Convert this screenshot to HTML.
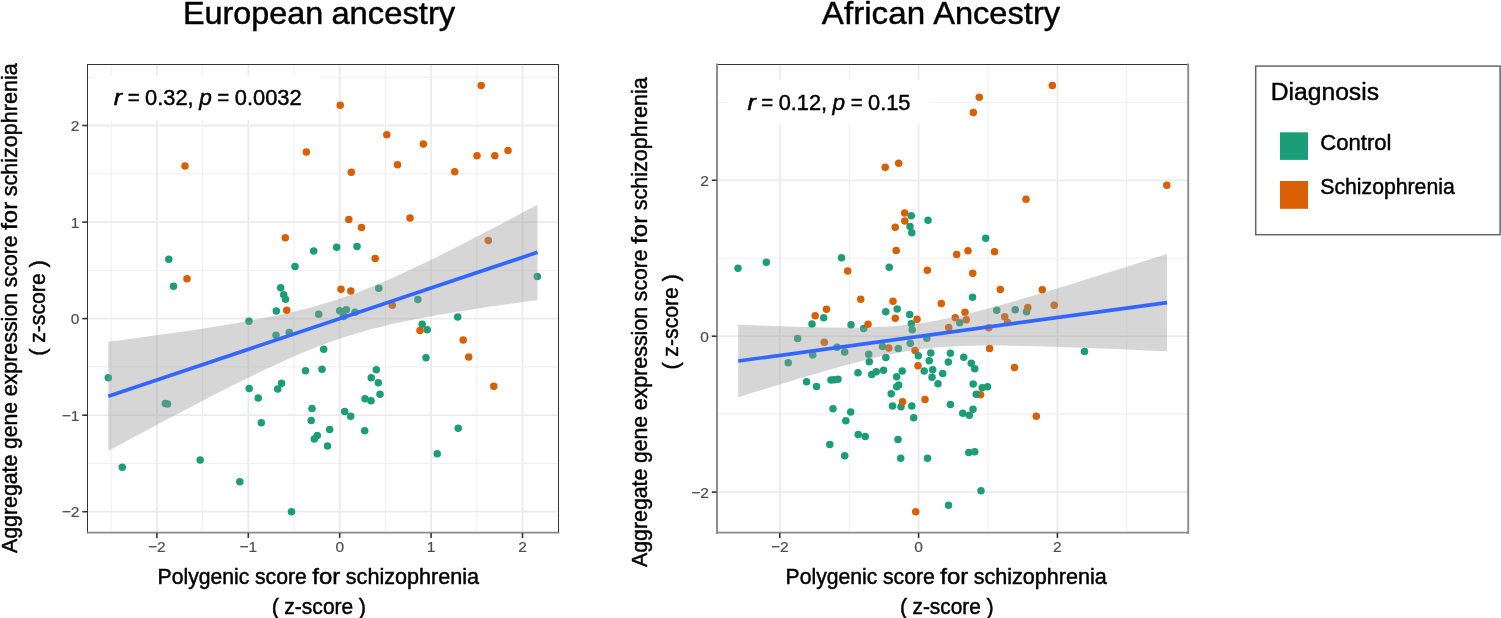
<!DOCTYPE html>
<html lang="en">
<head>
<meta charset="utf-8">
<title>Polygenic score vs aggregate gene expression score for schizophrenia</title>
<style>
html,body{margin:0;padding:0;background:#fff;}
body{width:1501px;height:618px;overflow:hidden;}
svg{display:block;font-family:"Liberation Sans",sans-serif;}
</style>
</head>
<body>
<svg width="1501" height="618" viewBox="0 0 1501 618">
<rect width="1501" height="618" fill="#fff"/>
<g>
<line x1="111.2" y1="64.5" x2="111.2" y2="532.7" stroke="#EBEBEB" stroke-width="0.85"/>
<line x1="202.6" y1="64.5" x2="202.6" y2="532.7" stroke="#EBEBEB" stroke-width="0.85"/>
<line x1="294.0" y1="64.5" x2="294.0" y2="532.7" stroke="#EBEBEB" stroke-width="0.85"/>
<line x1="385.4" y1="64.5" x2="385.4" y2="532.7" stroke="#EBEBEB" stroke-width="0.85"/>
<line x1="476.8" y1="64.5" x2="476.8" y2="532.7" stroke="#EBEBEB" stroke-width="0.85"/>
<line x1="87.5" y1="463.4" x2="558.5" y2="463.4" stroke="#EBEBEB" stroke-width="0.85"/>
<line x1="87.5" y1="366.9" x2="558.5" y2="366.9" stroke="#EBEBEB" stroke-width="0.85"/>
<line x1="87.5" y1="270.3" x2="558.5" y2="270.3" stroke="#EBEBEB" stroke-width="0.85"/>
<line x1="87.5" y1="173.8" x2="558.5" y2="173.8" stroke="#EBEBEB" stroke-width="0.85"/>
<line x1="87.5" y1="77.2" x2="558.5" y2="77.2" stroke="#EBEBEB" stroke-width="0.85"/>
<line x1="156.9" y1="64.5" x2="156.9" y2="532.7" stroke="#EBEBEB" stroke-width="1.80"/>
<line x1="248.3" y1="64.5" x2="248.3" y2="532.7" stroke="#EBEBEB" stroke-width="1.80"/>
<line x1="339.7" y1="64.5" x2="339.7" y2="532.7" stroke="#EBEBEB" stroke-width="1.80"/>
<line x1="431.1" y1="64.5" x2="431.1" y2="532.7" stroke="#EBEBEB" stroke-width="1.80"/>
<line x1="522.5" y1="64.5" x2="522.5" y2="532.7" stroke="#EBEBEB" stroke-width="1.80"/>
<line x1="87.5" y1="511.7" x2="558.5" y2="511.7" stroke="#EBEBEB" stroke-width="1.80"/>
<line x1="87.5" y1="415.2" x2="558.5" y2="415.2" stroke="#EBEBEB" stroke-width="1.80"/>
<line x1="87.5" y1="318.6" x2="558.5" y2="318.6" stroke="#EBEBEB" stroke-width="1.80"/>
<line x1="87.5" y1="222.1" x2="558.5" y2="222.1" stroke="#EBEBEB" stroke-width="1.80"/>
<line x1="87.5" y1="125.5" x2="558.5" y2="125.5" stroke="#EBEBEB" stroke-width="1.80"/>
<rect x="95.0" y="75.8" width="225.0" height="44.0" fill="#fff"/>
<circle cx="313.7" cy="251.0" r="3.75" fill="#1B9E77"/><circle cx="336.7" cy="247.3" r="3.75" fill="#1B9E77"/><circle cx="357.0" cy="246.5" r="3.75" fill="#1B9E77"/><circle cx="168.8" cy="259.2" r="3.75" fill="#1B9E77"/><circle cx="173.5" cy="286.3" r="3.75" fill="#1B9E77"/><circle cx="295.0" cy="266.5" r="3.75" fill="#1B9E77"/><circle cx="280.7" cy="287.7" r="3.75" fill="#1B9E77"/><circle cx="283.7" cy="294.7" r="3.75" fill="#1B9E77"/><circle cx="285.5" cy="299.3" r="3.75" fill="#1B9E77"/><circle cx="276.3" cy="311.0" r="3.75" fill="#1B9E77"/><circle cx="318.7" cy="314.3" r="3.75" fill="#1B9E77"/><circle cx="249.0" cy="321.2" r="3.75" fill="#1B9E77"/><circle cx="276.0" cy="335.2" r="3.75" fill="#1B9E77"/><circle cx="289.3" cy="332.5" r="3.75" fill="#1B9E77"/><circle cx="323.7" cy="349.3" r="3.75" fill="#1B9E77"/><circle cx="378.7" cy="288.3" r="3.75" fill="#1B9E77"/><circle cx="417.8" cy="299.5" r="3.75" fill="#1B9E77"/><circle cx="339.7" cy="310.8" r="3.75" fill="#1B9E77"/><circle cx="346.3" cy="309.7" r="3.75" fill="#1B9E77"/><circle cx="343.3" cy="312.5" r="3.75" fill="#1B9E77"/><circle cx="355.0" cy="312.2" r="3.75" fill="#1B9E77"/><circle cx="343.5" cy="316.5" r="3.75" fill="#1B9E77"/><circle cx="537.3" cy="276.5" r="3.75" fill="#1B9E77"/><circle cx="457.7" cy="317.0" r="3.75" fill="#1B9E77"/><circle cx="422.2" cy="324.2" r="3.75" fill="#1B9E77"/><circle cx="427.2" cy="329.7" r="3.75" fill="#1B9E77"/><circle cx="108.3" cy="377.7" r="3.75" fill="#1B9E77"/><circle cx="165.3" cy="403.5" r="3.75" fill="#1B9E77"/><circle cx="167.5" cy="404.0" r="3.75" fill="#1B9E77"/><circle cx="305.5" cy="370.8" r="3.75" fill="#1B9E77"/><circle cx="322.0" cy="369.2" r="3.75" fill="#1B9E77"/><circle cx="281.5" cy="383.3" r="3.75" fill="#1B9E77"/><circle cx="277.7" cy="389.0" r="3.75" fill="#1B9E77"/><circle cx="249.2" cy="388.5" r="3.75" fill="#1B9E77"/><circle cx="258.2" cy="398.0" r="3.75" fill="#1B9E77"/><circle cx="312.0" cy="408.5" r="3.75" fill="#1B9E77"/><circle cx="261.3" cy="422.8" r="3.75" fill="#1B9E77"/><circle cx="311.2" cy="420.5" r="3.75" fill="#1B9E77"/><circle cx="329.7" cy="429.4" r="3.75" fill="#1B9E77"/><circle cx="317.3" cy="435.5" r="3.75" fill="#1B9E77"/><circle cx="314.3" cy="438.9" r="3.75" fill="#1B9E77"/><circle cx="327.5" cy="446.0" r="3.75" fill="#1B9E77"/><circle cx="426.0" cy="357.7" r="3.75" fill="#1B9E77"/><circle cx="376.3" cy="369.8" r="3.75" fill="#1B9E77"/><circle cx="371.2" cy="377.8" r="3.75" fill="#1B9E77"/><circle cx="378.3" cy="382.8" r="3.75" fill="#1B9E77"/><circle cx="380.0" cy="394.2" r="3.75" fill="#1B9E77"/><circle cx="365.0" cy="398.8" r="3.75" fill="#1B9E77"/><circle cx="371.0" cy="400.8" r="3.75" fill="#1B9E77"/><circle cx="344.7" cy="411.5" r="3.75" fill="#1B9E77"/><circle cx="350.7" cy="416.2" r="3.75" fill="#1B9E77"/><circle cx="364.7" cy="430.7" r="3.75" fill="#1B9E77"/><circle cx="458.2" cy="428.2" r="3.75" fill="#1B9E77"/><circle cx="122.3" cy="467.2" r="3.75" fill="#1B9E77"/><circle cx="200.2" cy="460.0" r="3.75" fill="#1B9E77"/><circle cx="239.8" cy="481.8" r="3.75" fill="#1B9E77"/><circle cx="291.5" cy="511.8" r="3.75" fill="#1B9E77"/><circle cx="437.2" cy="453.7" r="3.75" fill="#1B9E77"/>
<circle cx="306.3" cy="151.9" r="3.75" fill="#D95F02"/><circle cx="340.2" cy="105.2" r="3.75" fill="#D95F02"/><circle cx="481.2" cy="85.5" r="3.75" fill="#D95F02"/><circle cx="386.8" cy="134.8" r="3.75" fill="#D95F02"/><circle cx="423.3" cy="144.0" r="3.75" fill="#D95F02"/><circle cx="508.0" cy="150.4" r="3.75" fill="#D95F02"/><circle cx="477.0" cy="155.7" r="3.75" fill="#D95F02"/><circle cx="494.8" cy="155.7" r="3.75" fill="#D95F02"/><circle cx="185.0" cy="166.0" r="3.75" fill="#D95F02"/><circle cx="285.3" cy="237.8" r="3.75" fill="#D95F02"/><circle cx="351.3" cy="172.2" r="3.75" fill="#D95F02"/><circle cx="397.5" cy="164.8" r="3.75" fill="#D95F02"/><circle cx="454.7" cy="171.8" r="3.75" fill="#D95F02"/><circle cx="348.8" cy="219.5" r="3.75" fill="#D95F02"/><circle cx="361.5" cy="227.5" r="3.75" fill="#D95F02"/><circle cx="410.0" cy="218.0" r="3.75" fill="#D95F02"/><circle cx="488.3" cy="240.5" r="3.75" fill="#D95F02"/><circle cx="375.2" cy="258.5" r="3.75" fill="#D95F02"/><circle cx="187.0" cy="278.8" r="3.75" fill="#D95F02"/><circle cx="286.7" cy="310.2" r="3.75" fill="#D95F02"/><circle cx="341.0" cy="289.2" r="3.75" fill="#D95F02"/><circle cx="350.8" cy="291.0" r="3.75" fill="#D95F02"/><circle cx="392.3" cy="305.2" r="3.75" fill="#D95F02"/><circle cx="420.0" cy="330.5" r="3.75" fill="#D95F02"/><circle cx="463.2" cy="340.0" r="3.75" fill="#D95F02"/><circle cx="468.7" cy="357.0" r="3.75" fill="#D95F02"/><circle cx="493.8" cy="386.2" r="3.75" fill="#D95F02"/>

<path d="M108.3 341.8 L115.5 340.9 L122.6 339.9 L129.8 339.0 L136.9 338.0 L144.1 337.0 L151.2 336.0 L158.4 335.0 L165.5 334.0 L172.7 333.0 L179.8 332.0 L187.0 330.9 L194.1 329.9 L201.3 328.8 L208.4 327.7 L215.6 326.6 L222.8 325.4 L229.9 324.2 L237.1 323.0 L244.2 321.8 L251.4 320.5 L258.5 319.1 L265.7 317.8 L272.8 316.3 L280.0 314.8 L287.1 313.2 L294.3 311.6 L301.4 309.8 L308.6 308.0 L315.7 306.0 L322.9 304.0 L330.1 301.8 L337.2 299.5 L344.4 297.1 L351.5 294.6 L358.7 291.9 L365.8 289.1 L373.0 286.3 L380.1 283.3 L387.3 280.2 L394.4 277.0 L401.6 273.8 L408.7 270.5 L415.9 267.1 L423.0 263.7 L430.2 260.2 L437.4 256.7 L444.5 253.1 L451.7 249.5 L458.8 245.9 L466.0 242.3 L473.1 238.6 L480.3 234.9 L487.4 231.1 L494.6 227.4 L501.7 223.7 L508.9 219.9 L516.0 216.1 L523.2 212.3 L530.3 208.5 L537.5 204.7 L537.5 299.9 L530.3 300.9 L523.2 301.9 L516.0 302.9 L508.9 303.9 L501.7 305.0 L494.6 306.0 L487.4 307.1 L480.3 308.2 L473.1 309.3 L466.0 310.4 L458.8 311.5 L451.7 312.7 L444.5 313.9 L437.4 315.1 L430.2 316.4 L423.0 317.7 L415.9 319.1 L408.7 320.5 L401.6 322.0 L394.4 323.6 L387.3 325.2 L380.1 327.0 L373.0 328.8 L365.8 330.7 L358.7 332.7 L351.5 334.9 L344.4 337.1 L337.2 339.5 L330.1 342.0 L322.9 344.7 L315.7 347.4 L308.6 350.3 L301.4 353.2 L294.3 356.3 L287.1 359.4 L280.0 362.7 L272.8 366.0 L265.7 369.3 L258.5 372.7 L251.4 376.2 L244.2 379.7 L237.1 383.3 L229.9 386.8 L222.8 390.5 L215.6 394.1 L208.4 397.8 L201.3 401.5 L194.1 405.2 L187.0 408.9 L179.8 412.7 L172.7 416.5 L165.5 420.2 L158.4 424.0 L151.2 427.8 L144.1 431.7 L136.9 435.5 L129.8 439.3 L122.6 443.2 L115.5 447.0 L108.3 450.9Z" fill="#999999" fill-opacity="0.4"/>
<line x1="108.3" y1="396.3" x2="537.5" y2="252.3" stroke="#3366FF" stroke-width="3.7"/>
<line x1="87.50" y1="64.50" x2="558.50" y2="64.50" stroke="#333333" stroke-width="1.00" stroke-linecap="square"/>
<line x1="87.50" y1="64.50" x2="87.50" y2="532.70" stroke="#333333" stroke-width="1.00" stroke-linecap="square"/>
<line x1="558.50" y1="64.50" x2="558.50" y2="532.70" stroke="#333333" stroke-width="1.00" stroke-linecap="square"/>
<line x1="87.50" y1="532.70" x2="558.50" y2="532.70" stroke="#8a8a8a" stroke-width="1.70" stroke-linecap="square"/>
<line x1="156.9" y1="533.0" x2="156.9" y2="538.0" stroke="#333333" stroke-width="1.6"/>
<text x="156.9" y="552.0" font-size="15.50" fill="#4D4D4D" stroke="#4D4D4D" stroke-width="0.2" text-anchor="middle">−2</text>
<line x1="248.3" y1="533.0" x2="248.3" y2="538.0" stroke="#333333" stroke-width="1.6"/>
<text x="248.3" y="552.0" font-size="15.50" fill="#4D4D4D" stroke="#4D4D4D" stroke-width="0.2" text-anchor="middle">−1</text>
<line x1="339.7" y1="533.0" x2="339.7" y2="538.0" stroke="#333333" stroke-width="1.6"/>
<text x="339.7" y="552.0" font-size="15.50" fill="#4D4D4D" stroke="#4D4D4D" stroke-width="0.2" text-anchor="middle">0</text>
<line x1="431.1" y1="533.0" x2="431.1" y2="538.0" stroke="#333333" stroke-width="1.6"/>
<text x="431.1" y="552.0" font-size="15.50" fill="#4D4D4D" stroke="#4D4D4D" stroke-width="0.2" text-anchor="middle">1</text>
<line x1="522.5" y1="533.0" x2="522.5" y2="538.0" stroke="#333333" stroke-width="1.6"/>
<text x="522.5" y="552.0" font-size="15.50" fill="#4D4D4D" stroke="#4D4D4D" stroke-width="0.2" text-anchor="middle">2</text>
<line x1="82.3" y1="511.7" x2="87.2" y2="511.7" stroke="#333333" stroke-width="1.6"/>
<text x="79.4" y="517.3" font-size="15.50" fill="#4D4D4D" stroke="#4D4D4D" stroke-width="0.2" text-anchor="end">−2</text>
<line x1="82.3" y1="415.2" x2="87.2" y2="415.2" stroke="#333333" stroke-width="1.6"/>
<text x="79.4" y="420.8" font-size="15.50" fill="#4D4D4D" stroke="#4D4D4D" stroke-width="0.2" text-anchor="end">−1</text>
<line x1="82.3" y1="318.6" x2="87.2" y2="318.6" stroke="#333333" stroke-width="1.6"/>
<text x="79.4" y="324.2" font-size="15.50" fill="#4D4D4D" stroke="#4D4D4D" stroke-width="0.2" text-anchor="end">0</text>
<line x1="82.3" y1="222.1" x2="87.2" y2="222.1" stroke="#333333" stroke-width="1.6"/>
<text x="79.4" y="227.7" font-size="15.50" fill="#4D4D4D" stroke="#4D4D4D" stroke-width="0.2" text-anchor="end">1</text>
<line x1="82.3" y1="125.5" x2="87.2" y2="125.5" stroke="#333333" stroke-width="1.6"/>
<text x="79.4" y="131.1" font-size="15.50" fill="#4D4D4D" stroke="#4D4D4D" stroke-width="0.2" text-anchor="end">2</text>
</g>
<g>
<line x1="849.2" y1="64.5" x2="849.2" y2="532.7" stroke="#EBEBEB" stroke-width="0.85"/>
<line x1="988.0" y1="64.5" x2="988.0" y2="532.7" stroke="#EBEBEB" stroke-width="0.85"/>
<line x1="1126.8" y1="64.5" x2="1126.8" y2="532.7" stroke="#EBEBEB" stroke-width="0.85"/>
<line x1="717.0" y1="414.1" x2="1188.2" y2="414.1" stroke="#EBEBEB" stroke-width="0.85"/>
<line x1="717.0" y1="258.2" x2="1188.2" y2="258.2" stroke="#EBEBEB" stroke-width="0.85"/>
<line x1="717.0" y1="102.3" x2="1188.2" y2="102.3" stroke="#EBEBEB" stroke-width="0.85"/>
<line x1="779.8" y1="64.5" x2="779.8" y2="532.7" stroke="#EBEBEB" stroke-width="1.80"/>
<line x1="918.6" y1="64.5" x2="918.6" y2="532.7" stroke="#EBEBEB" stroke-width="1.80"/>
<line x1="1057.4" y1="64.5" x2="1057.4" y2="532.7" stroke="#EBEBEB" stroke-width="1.80"/>
<line x1="717.0" y1="492.1" x2="1188.2" y2="492.1" stroke="#EBEBEB" stroke-width="1.80"/>
<line x1="717.0" y1="336.2" x2="1188.2" y2="336.2" stroke="#EBEBEB" stroke-width="1.80"/>
<line x1="717.0" y1="180.3" x2="1188.2" y2="180.3" stroke="#EBEBEB" stroke-width="1.80"/>
<rect x="727.5" y="80.0" width="202.5" height="44.2" fill="#fff"/>
<circle cx="911.2" cy="215.8" r="3.75" fill="#1B9E77"/><circle cx="928.0" cy="220.3" r="3.75" fill="#1B9E77"/><circle cx="910.0" cy="226.5" r="3.75" fill="#1B9E77"/><circle cx="911.8" cy="232.8" r="3.75" fill="#1B9E77"/><circle cx="985.7" cy="238.3" r="3.75" fill="#1B9E77"/><circle cx="738.0" cy="268.3" r="3.75" fill="#1B9E77"/><circle cx="766.3" cy="262.2" r="3.75" fill="#1B9E77"/><circle cx="841.5" cy="257.8" r="3.75" fill="#1B9E77"/><circle cx="889.2" cy="267.3" r="3.75" fill="#1B9E77"/><circle cx="823.7" cy="317.8" r="3.75" fill="#1B9E77"/><circle cx="812.0" cy="324.0" r="3.75" fill="#1B9E77"/><circle cx="885.8" cy="311.7" r="3.75" fill="#1B9E77"/><circle cx="897.2" cy="309.0" r="3.75" fill="#1B9E77"/><circle cx="909.7" cy="314.5" r="3.75" fill="#1B9E77"/><circle cx="851.0" cy="324.7" r="3.75" fill="#1B9E77"/><circle cx="911.3" cy="323.7" r="3.75" fill="#1B9E77"/><circle cx="863.7" cy="328.5" r="3.75" fill="#1B9E77"/><circle cx="912.2" cy="329.7" r="3.75" fill="#1B9E77"/><circle cx="797.7" cy="338.5" r="3.75" fill="#1B9E77"/><circle cx="926.8" cy="338.3" r="3.75" fill="#1B9E77"/><circle cx="910.3" cy="343.3" r="3.75" fill="#1B9E77"/><circle cx="837.0" cy="347.3" r="3.75" fill="#1B9E77"/><circle cx="882.5" cy="346.5" r="3.75" fill="#1B9E77"/><circle cx="898.3" cy="348.5" r="3.75" fill="#1B9E77"/><circle cx="972.5" cy="297.3" r="3.75" fill="#1B9E77"/><circle cx="959.7" cy="322.7" r="3.75" fill="#1B9E77"/><circle cx="996.7" cy="310.3" r="3.75" fill="#1B9E77"/><circle cx="1015.2" cy="309.8" r="3.75" fill="#1B9E77"/><circle cx="1026.5" cy="311.8" r="3.75" fill="#1B9E77"/><circle cx="812.7" cy="355.0" r="3.75" fill="#1B9E77"/><circle cx="844.7" cy="352.0" r="3.75" fill="#1B9E77"/><circle cx="788.2" cy="362.8" r="3.75" fill="#1B9E77"/><circle cx="868.7" cy="354.2" r="3.75" fill="#1B9E77"/><circle cx="930.8" cy="353.0" r="3.75" fill="#1B9E77"/><circle cx="950.4" cy="353.3" r="3.75" fill="#1B9E77"/><circle cx="885.8" cy="357.5" r="3.75" fill="#1B9E77"/><circle cx="869.3" cy="361.7" r="3.75" fill="#1B9E77"/><circle cx="929.2" cy="360.7" r="3.75" fill="#1B9E77"/><circle cx="948.3" cy="362.0" r="3.75" fill="#1B9E77"/><circle cx="924.2" cy="371.0" r="3.75" fill="#1B9E77"/><circle cx="932.7" cy="369.7" r="3.75" fill="#1B9E77"/><circle cx="942.7" cy="373.5" r="3.75" fill="#1B9E77"/><circle cx="932.0" cy="377.3" r="3.75" fill="#1B9E77"/><circle cx="938.0" cy="383.7" r="3.75" fill="#1B9E77"/><circle cx="902.2" cy="371.0" r="3.75" fill="#1B9E77"/><circle cx="883.5" cy="370.3" r="3.75" fill="#1B9E77"/><circle cx="876.3" cy="371.7" r="3.75" fill="#1B9E77"/><circle cx="871.7" cy="374.5" r="3.75" fill="#1B9E77"/><circle cx="858.0" cy="372.8" r="3.75" fill="#1B9E77"/><circle cx="896.7" cy="376.8" r="3.75" fill="#1B9E77"/><circle cx="898.7" cy="385.0" r="3.75" fill="#1B9E77"/><circle cx="896.7" cy="386.7" r="3.75" fill="#1B9E77"/><circle cx="891.2" cy="393.8" r="3.75" fill="#1B9E77"/><circle cx="831.0" cy="380.0" r="3.75" fill="#1B9E77"/><circle cx="834.2" cy="379.7" r="3.75" fill="#1B9E77"/><circle cx="838.0" cy="379.3" r="3.75" fill="#1B9E77"/><circle cx="806.5" cy="381.7" r="3.75" fill="#1B9E77"/><circle cx="816.5" cy="386.5" r="3.75" fill="#1B9E77"/><circle cx="892.5" cy="406.0" r="3.75" fill="#1B9E77"/><circle cx="901.0" cy="406.8" r="3.75" fill="#1B9E77"/><circle cx="911.8" cy="406.0" r="3.75" fill="#1B9E77"/><circle cx="950.4" cy="404.5" r="3.75" fill="#1B9E77"/><circle cx="833.0" cy="408.7" r="3.75" fill="#1B9E77"/><circle cx="850.7" cy="412.0" r="3.75" fill="#1B9E77"/><circle cx="845.8" cy="420.8" r="3.75" fill="#1B9E77"/><circle cx="913.7" cy="417.7" r="3.75" fill="#1B9E77"/><circle cx="858.2" cy="434.6" r="3.75" fill="#1B9E77"/><circle cx="865.2" cy="436.4" r="3.75" fill="#1B9E77"/><circle cx="898.0" cy="439.4" r="3.75" fill="#1B9E77"/><circle cx="829.8" cy="444.4" r="3.75" fill="#1B9E77"/><circle cx="844.7" cy="455.8" r="3.75" fill="#1B9E77"/><circle cx="900.7" cy="458.3" r="3.75" fill="#1B9E77"/><circle cx="927.5" cy="458.3" r="3.75" fill="#1B9E77"/><circle cx="948.5" cy="505.3" r="3.75" fill="#1B9E77"/><circle cx="1084.5" cy="351.5" r="3.75" fill="#1B9E77"/><circle cx="963.7" cy="357.2" r="3.75" fill="#1B9E77"/><circle cx="971.3" cy="363.3" r="3.75" fill="#1B9E77"/><circle cx="974.7" cy="368.8" r="3.75" fill="#1B9E77"/><circle cx="973.2" cy="384.0" r="3.75" fill="#1B9E77"/><circle cx="982.2" cy="387.7" r="3.75" fill="#1B9E77"/><circle cx="987.5" cy="386.7" r="3.75" fill="#1B9E77"/><circle cx="973.0" cy="409.2" r="3.75" fill="#1B9E77"/><circle cx="962.8" cy="413.3" r="3.75" fill="#1B9E77"/><circle cx="969.3" cy="415.3" r="3.75" fill="#1B9E77"/><circle cx="968.8" cy="452.5" r="3.75" fill="#1B9E77"/><circle cx="974.7" cy="451.8" r="3.75" fill="#1B9E77"/><circle cx="981.0" cy="490.7" r="3.75" fill="#1B9E77"/>
<circle cx="1052.3" cy="85.5" r="3.75" fill="#D95F02"/><circle cx="979.3" cy="97.3" r="3.75" fill="#D95F02"/><circle cx="973.3" cy="112.5" r="3.75" fill="#D95F02"/><circle cx="885.2" cy="167.3" r="3.75" fill="#D95F02"/><circle cx="898.7" cy="163.2" r="3.75" fill="#D95F02"/><circle cx="904.7" cy="213.0" r="3.75" fill="#D95F02"/><circle cx="904.8" cy="221.0" r="3.75" fill="#D95F02"/><circle cx="895.2" cy="227.3" r="3.75" fill="#D95F02"/><circle cx="896.2" cy="250.6" r="3.75" fill="#D95F02"/><circle cx="1166.8" cy="185.2" r="3.75" fill="#D95F02"/><circle cx="1026.0" cy="199.2" r="3.75" fill="#D95F02"/><circle cx="968.0" cy="250.8" r="3.75" fill="#D95F02"/><circle cx="994.5" cy="251.7" r="3.75" fill="#D95F02"/><circle cx="956.7" cy="254.5" r="3.75" fill="#D95F02"/><circle cx="847.7" cy="271.0" r="3.75" fill="#D95F02"/><circle cx="927.3" cy="270.3" r="3.75" fill="#D95F02"/><circle cx="860.7" cy="299.3" r="3.75" fill="#D95F02"/><circle cx="893.0" cy="301.3" r="3.75" fill="#D95F02"/><circle cx="941.3" cy="303.5" r="3.75" fill="#D95F02"/><circle cx="826.5" cy="309.2" r="3.75" fill="#D95F02"/><circle cx="815.2" cy="315.7" r="3.75" fill="#D95F02"/><circle cx="895.3" cy="318.2" r="3.75" fill="#D95F02"/><circle cx="917.0" cy="319.3" r="3.75" fill="#D95F02"/><circle cx="868.0" cy="324.3" r="3.75" fill="#D95F02"/><circle cx="948.7" cy="327.5" r="3.75" fill="#D95F02"/><circle cx="824.3" cy="342.2" r="3.75" fill="#D95F02"/><circle cx="888.8" cy="348.0" r="3.75" fill="#D95F02"/><circle cx="915.0" cy="350.4" r="3.75" fill="#D95F02"/><circle cx="972.7" cy="273.3" r="3.75" fill="#D95F02"/><circle cx="1000.3" cy="289.5" r="3.75" fill="#D95F02"/><circle cx="1042.3" cy="289.7" r="3.75" fill="#D95F02"/><circle cx="965.0" cy="312.2" r="3.75" fill="#D95F02"/><circle cx="955.3" cy="317.8" r="3.75" fill="#D95F02"/><circle cx="966.3" cy="319.8" r="3.75" fill="#D95F02"/><circle cx="1027.8" cy="307.5" r="3.75" fill="#D95F02"/><circle cx="1054.2" cy="305.2" r="3.75" fill="#D95F02"/><circle cx="1004.7" cy="316.7" r="3.75" fill="#D95F02"/><circle cx="1007.5" cy="322.5" r="3.75" fill="#D95F02"/><circle cx="988.8" cy="327.8" r="3.75" fill="#D95F02"/><circle cx="989.6" cy="348.4" r="3.75" fill="#D95F02"/><circle cx="918.0" cy="365.7" r="3.75" fill="#D95F02"/><circle cx="902.5" cy="401.8" r="3.75" fill="#D95F02"/><circle cx="925.0" cy="399.5" r="3.75" fill="#D95F02"/><circle cx="1014.5" cy="367.5" r="3.75" fill="#D95F02"/><circle cx="980.5" cy="394.7" r="3.75" fill="#D95F02"/><circle cx="1036.3" cy="416.3" r="3.75" fill="#D95F02"/><circle cx="915.7" cy="511.8" r="3.75" fill="#D95F02"/>
<circle cx="976.2" cy="394.3" r="3.75" fill="#1B9E77"/><circle cx="918.3" cy="355.7" r="3.75" fill="#1B9E77"/>
<path d="M738.2 324.8 L745.3 325.0 L752.5 325.3 L759.6 325.6 L766.8 325.8 L773.9 326.1 L781.1 326.3 L788.2 326.5 L795.4 326.7 L802.5 326.9 L809.7 327.1 L816.8 327.3 L824.0 327.4 L831.1 327.5 L838.3 327.5 L845.4 327.6 L852.5 327.5 L859.7 327.5 L866.8 327.3 L874.0 327.1 L881.1 326.8 L888.3 326.4 L895.4 325.9 L902.6 325.3 L909.7 324.6 L916.9 323.7 L924.0 322.7 L931.2 321.5 L938.3 320.2 L945.5 318.8 L952.6 317.3 L959.7 315.7 L966.9 314.0 L974.0 312.2 L981.2 310.3 L988.3 308.4 L995.5 306.5 L1002.6 304.5 L1009.8 302.4 L1016.9 300.4 L1024.1 298.3 L1031.2 296.2 L1038.4 294.1 L1045.5 291.9 L1052.7 289.8 L1059.8 287.6 L1066.9 285.4 L1074.1 283.2 L1081.2 281.0 L1088.4 278.8 L1095.5 276.6 L1102.7 274.3 L1109.8 272.1 L1117.0 269.8 L1124.1 267.6 L1131.3 265.4 L1138.4 263.1 L1145.6 260.8 L1152.7 258.6 L1159.9 256.3 L1167.0 254.1 L1167.0 351.3 L1159.9 351.0 L1152.7 350.7 L1145.6 350.4 L1138.4 350.0 L1131.3 349.7 L1124.1 349.4 L1117.0 349.1 L1109.8 348.8 L1102.7 348.5 L1095.5 348.3 L1088.4 348.0 L1081.2 347.7 L1074.1 347.4 L1066.9 347.2 L1059.8 346.9 L1052.7 346.7 L1045.5 346.5 L1038.4 346.3 L1031.2 346.1 L1024.1 345.9 L1016.9 345.8 L1009.8 345.7 L1002.6 345.6 L995.5 345.5 L988.3 345.5 L981.2 345.6 L974.0 345.7 L966.9 345.8 L959.7 346.1 L952.6 346.4 L945.5 346.8 L938.3 347.3 L931.2 348.0 L924.0 348.8 L916.9 349.7 L909.7 350.8 L902.6 352.0 L895.4 353.3 L888.3 354.7 L881.1 356.3 L874.0 357.9 L866.8 359.7 L859.7 361.5 L852.5 363.4 L845.4 365.3 L838.3 367.2 L831.1 369.3 L824.0 371.3 L816.8 373.4 L809.7 375.5 L802.5 377.6 L795.4 379.7 L788.2 381.9 L781.1 384.0 L773.9 386.2 L766.8 388.4 L759.6 390.6 L752.5 392.8 L745.3 395.0 L738.2 397.2Z" fill="#999999" fill-opacity="0.4"/>
<line x1="738.2" y1="361.0" x2="1167.0" y2="302.7" stroke="#3366FF" stroke-width="3.7"/>
<line x1="717.00" y1="64.50" x2="1188.20" y2="64.50" stroke="#333333" stroke-width="1.00" stroke-linecap="square"/>
<line x1="717.00" y1="64.50" x2="717.00" y2="532.70" stroke="#8a8a8a" stroke-width="1.90" stroke-linecap="square"/>
<line x1="1188.20" y1="64.50" x2="1188.20" y2="532.70" stroke="#8a8a8a" stroke-width="1.90" stroke-linecap="square"/>
<line x1="717.00" y1="532.70" x2="1188.20" y2="532.70" stroke="#8a8a8a" stroke-width="1.70" stroke-linecap="square"/>
<line x1="779.8" y1="533.0" x2="779.8" y2="538.0" stroke="#333333" stroke-width="1.6"/>
<text x="779.8" y="552.0" font-size="15.50" fill="#4D4D4D" stroke="#4D4D4D" stroke-width="0.2" text-anchor="middle">−2</text>
<line x1="918.6" y1="533.0" x2="918.6" y2="538.0" stroke="#333333" stroke-width="1.6"/>
<text x="918.6" y="552.0" font-size="15.50" fill="#4D4D4D" stroke="#4D4D4D" stroke-width="0.2" text-anchor="middle">0</text>
<line x1="1057.4" y1="533.0" x2="1057.4" y2="538.0" stroke="#333333" stroke-width="1.6"/>
<text x="1057.4" y="552.0" font-size="15.50" fill="#4D4D4D" stroke="#4D4D4D" stroke-width="0.2" text-anchor="middle">2</text>
<line x1="711.8" y1="492.1" x2="716.7" y2="492.1" stroke="#333333" stroke-width="1.6"/>
<text x="708.9" y="497.7" font-size="15.50" fill="#4D4D4D" stroke="#4D4D4D" stroke-width="0.2" text-anchor="end">−2</text>
<line x1="711.8" y1="336.2" x2="716.7" y2="336.2" stroke="#333333" stroke-width="1.6"/>
<text x="708.9" y="341.8" font-size="15.50" fill="#4D4D4D" stroke="#4D4D4D" stroke-width="0.2" text-anchor="end">0</text>
<line x1="711.8" y1="180.3" x2="716.7" y2="180.3" stroke="#333333" stroke-width="1.6"/>
<text x="708.9" y="185.9" font-size="15.50" fill="#4D4D4D" stroke="#4D4D4D" stroke-width="0.2" text-anchor="end">2</text>
</g>
<g>
<g font-size="31.40" fill="#000" stroke="#000" stroke-width="0.45"><text transform="translate(182.88 24.45) scale(1.0318 1)">European</text><text transform="translate(331.38 24.45) scale(1.0435 1)">ancestry</text></g>
<g font-size="31.40" fill="#000" stroke="#000" stroke-width="0.45"><text transform="translate(821.86 24.45) scale(1.0568 1)">African</text><text transform="translate(933.13 24.45) scale(1.0394 1)">Ancestry</text></g>
<g font-size="21.70" fill="#000" stroke="#000" stroke-width="0.45"><text transform="translate(113.80 104.70) scale(1.1590 1)" font-style="italic">r</text><text transform="translate(127.64 104.70) scale(0.9441 1)">=</text><text transform="translate(145.07 104.70) scale(1.0066 1)">0.32,</text><text transform="translate(199.21 104.70) scale(1.0458 1)" font-style="italic">p</text><text transform="translate(217.30 104.70) scale(0.9441 1)">=</text><text transform="translate(234.74 104.70) scale(1.0086 1)">0.0032</text></g>
<g font-size="21.70" fill="#000" stroke="#000" stroke-width="0.45"><text transform="translate(747.50 109.50) scale(1.1549 1)" font-style="italic">r</text><text transform="translate(761.29 109.50) scale(0.9407 1)">=</text><text transform="translate(778.66 109.50) scale(1.0030 1)">0.12,</text><text transform="translate(832.60 109.50) scale(1.0420 1)" font-style="italic">p</text><text transform="translate(850.63 109.50) scale(0.9407 1)">=</text><text transform="translate(868.00 109.50) scale(1.0048 1)">0.15</text></g>
<g font-size="21.20" fill="#000" stroke="#000" stroke-width="0.45"><text transform="translate(157.60 584.20) scale(0.9989 1)">Polygenic</text><text transform="translate(255.01 584.20) scale(1.0005 1)">score</text><text transform="translate(312.37 584.20) scale(1.1319 1)">for</text><text transform="translate(345.81 584.20) scale(1.0190 1)">schizophrenia</text></g>
<g font-size="21.20" fill="#000" stroke="#000" stroke-width="0.45"><text transform="translate(271.67 613.90) scale(1.0251 1)">(</text><text transform="translate(284.34 613.90) scale(0.9920 1)">z-score</text><text transform="translate(358.85 613.90) scale(1.0251 1)">)</text></g>
<g font-size="21.20" fill="#000" stroke="#000" stroke-width="0.45"><text transform="translate(785.60 584.20) scale(0.9982 1)">Polygenic</text><text transform="translate(882.95 584.20) scale(0.9998 1)">score</text><text transform="translate(940.27 584.20) scale(1.1312 1)">for</text><text transform="translate(973.70 584.20) scale(1.0184 1)">schizophrenia</text></g>
<g font-size="21.20" fill="#000" stroke="#000" stroke-width="0.45"><text transform="translate(899.88 613.90) scale(1.0184 1)">(</text><text transform="translate(912.46 613.90) scale(0.9855 1)">z-score</text><text transform="translate(986.49 613.90) scale(1.0184 1)">)</text></g>
<g font-size="21.20" fill="#000" stroke="#000" stroke-width="0.45"><text transform="translate(17.10 552.95) rotate(-90) scale(1.0053 1)">Aggregate</text><text transform="translate(17.10 449.00) rotate(-90) scale(1.0009 1)">gene</text><text transform="translate(17.10 396.31) rotate(-90) scale(1.0098 1)">expression</text><text transform="translate(17.10 287.17) rotate(-90) scale(1.0004 1)">score</text><text transform="translate(17.10 229.81) rotate(-90) scale(1.1318 1)">for</text><text transform="translate(17.10 196.37) rotate(-90) scale(1.0189 1)">schizophrenia</text></g>
<g font-size="21.20" fill="#000" stroke="#000" stroke-width="0.45"><text transform="translate(45.00 355.64) rotate(-90) scale(1.0351 1)">(</text><text transform="translate(45.00 342.85) rotate(-90) scale(1.0016 1)">z-score</text><text transform="translate(45.00 267.61) rotate(-90) scale(1.0351 1)">)</text></g>
<g font-size="21.20" fill="#000" stroke="#000" stroke-width="0.45"><text transform="translate(647.20 566.95) rotate(-90) scale(1.0053 1)">Aggregate</text><text transform="translate(647.20 463.00) rotate(-90) scale(1.0009 1)">gene</text><text transform="translate(647.20 410.31) rotate(-90) scale(1.0098 1)">expression</text><text transform="translate(647.20 301.17) rotate(-90) scale(1.0004 1)">score</text><text transform="translate(647.20 243.81) rotate(-90) scale(1.1318 1)">for</text><text transform="translate(647.20 210.37) rotate(-90) scale(1.0189 1)">schizophrenia</text></g>
<g font-size="21.20" fill="#000" stroke="#000" stroke-width="0.45"><text transform="translate(677.70 369.44) rotate(-90) scale(1.0351 1)">(</text><text transform="translate(677.70 356.65) rotate(-90) scale(1.0016 1)">z-score</text><text transform="translate(677.70 281.41) rotate(-90) scale(1.0351 1)">)</text></g>
</g>
<g>
<rect x="1255.7" y="66.1" width="244.4" height="168.6" fill="#fff" stroke="#666666" stroke-width="1.5"/>
<rect x="1280" y="132.3" width="28" height="27.6" fill="#1B9E77"/>
<rect x="1280" y="181.0" width="28" height="27.8" fill="#D95F02"/>
<g font-size="24.80" fill="#000" stroke="#000" stroke-width="0.45"><text transform="translate(1270.66 99.90) scale(0.9953 1)">Diagnosis</text></g>
<g font-size="21.20" fill="#000" stroke="#000" stroke-width="0.45"><text transform="translate(1320.32 149.60) scale(1.0415 1)">Control</text></g>
<g font-size="21.20" fill="#000" stroke="#000" stroke-width="0.45"><text transform="translate(1320.25 194.00) scale(1.0011 1)">Schizophrenia</text></g>
</g>
</svg>
</body>
</html>
